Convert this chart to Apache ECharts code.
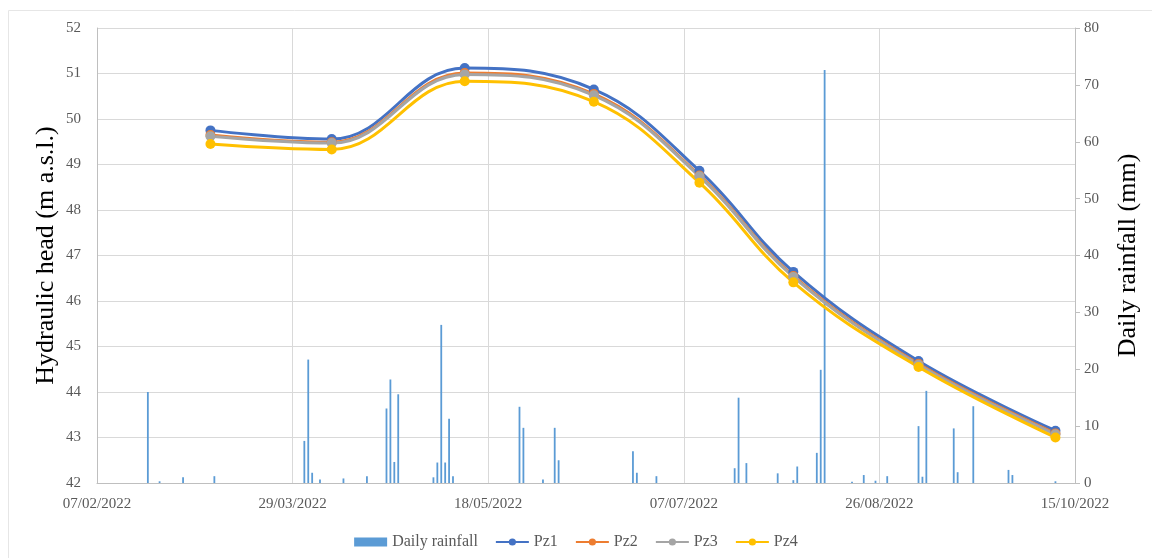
<!DOCTYPE html>
<html>
<head>
<meta charset="utf-8">
<title>Hydraulic head and daily rainfall</title>
<script src="https://cdn.jsdelivr.net/npm/echarts@6/dist/echarts.min.js"></script>
<style>
  html, body { margin: 0; padding: 0; background: #ffffff; }
  #chart { width: 1152px; height: 558px; }
</style>
</head>
<body>
<div id="chart"></div>
<script>
// Time span of the horizontal axis and its tick step (days)
const xStart = '2022-02-07';
const xEnd = '2022-10-15';
const tickStepDays = 50;

// Piezometer survey dates and hydraulic heads (m a.s.l.)
const headDates = ['2022-03-08', '2022-04-08', '2022-05-12', '2022-06-14', '2022-07-11', '2022-08-04', '2022-09-05', '2022-10-10'];
const pz1 = [49.75, 49.56, 51.12, 50.65, 48.86, 46.64, 44.68, 43.15];
const pz2 = [49.65, 49.49, 51.01, 50.55, 48.76, 46.55, 44.62, 43.09];
const pz3 = [49.62, 49.47, 50.98, 50.52, 48.74, 46.53, 44.60, 43.07];
const pz4 = [49.45, 49.33, 50.83, 50.38, 48.60, 46.41, 44.55, 43.00];

// Daily rainfall (mm)
const rainDates = [
  '2022-02-20', '2022-02-23', '2022-03-01', '2022-03-09',
  '2022-04-01', '2022-04-02', '2022-04-03', '2022-04-05', '2022-04-11', '2022-04-17',
  '2022-04-22', '2022-04-23', '2022-04-24', '2022-04-25',
  '2022-05-04', '2022-05-05', '2022-05-06', '2022-05-07', '2022-05-08', '2022-05-09',
  '2022-05-26', '2022-05-27', '2022-06-01', '2022-06-04', '2022-06-05',
  '2022-06-24', '2022-06-25', '2022-06-30',
  '2022-07-20', '2022-07-21', '2022-07-23', '2022-07-31',
  '2022-08-04', '2022-08-05', '2022-08-10', '2022-08-11', '2022-08-12',
  '2022-08-19', '2022-08-22', '2022-08-25', '2022-08-28',
  '2022-09-05', '2022-09-06', '2022-09-07', '2022-09-14', '2022-09-15', '2022-09-19',
  '2022-09-28', '2022-09-29', '2022-10-10'
];
const rainMm = [
  16.0, 0.3, 1.0, 1.2,
  7.4, 21.7, 1.8, 0.6, 0.8, 1.2,
  13.1, 18.2, 3.7, 15.6,
  1.0, 3.6, 27.8, 3.6, 11.3, 1.2,
  13.4, 9.7, 0.6, 9.7, 4.0,
  5.6, 1.8, 1.2,
  2.6, 15.0, 3.5, 1.7,
  0.5, 2.9, 5.3, 19.9, 72.6,
  0.2, 1.4, 0.4, 1.2,
  10.0, 1.1, 16.2, 9.6, 1.9, 13.5,
  2.3, 1.4, 0.3
];

const DAY_MS = 86400000;
const startMs = (function () { const p = xStart.split('-').map(Number); return Date.UTC(p[0], p[1] - 1, p[2]); })();
function dayOf(s) {
  const p = s.split('-').map(Number);
  return Math.round((Date.UTC(p[0], p[1] - 1, p[2]) - startMs) / DAY_MS);
}
function pad(n) { return (n < 10 ? '0' : '') + n; }
function fmtDay(v) {
  const d = new Date(startMs + v * DAY_MS);
  return pad(d.getUTCDate()) + '/' + pad(d.getUTCMonth() + 1) + '/' + d.getUTCFullYear();
}

const serif = '"Liberation Serif", "DejaVu Serif", serif';
const labelStyle = { fontFamily: serif, fontSize: 15, color: '#595959' };

function headSeries(name, values, color) {
  return {
    name: name,
    type: 'line',
    yAxisIndex: 0,
    smooth: 0.4,
    symbol: 'circle',
    symbolSize: 10,
    lineStyle: { width: 3, color: color },
    itemStyle: { color: color },
    data: headDates.map((d, i) => [dayOf(d), values[i]])
  };
}

const chart = echarts.init(document.getElementById('chart'), null, { renderer: 'canvas' });
chart.setOption({
  animation: false,
  backgroundColor: '#ffffff',
  graphic: [{
    type: 'rect',
    shape: { x: 8.5, y: 10.5, width: 1160, height: 560 },
    style: { fill: 'none', stroke: '#e6e6e6', lineWidth: 1 },
    silent: true
  }],
  grid: { left: 97, right: 77, top: 28, bottom: 75 },
  legend: {
    top: 529,
    left: 'center',
    itemWidth: 33,
    itemHeight: 9,
    itemGap: 17,
    textStyle: { fontFamily: serif, fontSize: 16, color: '#595959' },
    data: [
      { name: 'Daily rainfall', icon: 'rect' },
      'Pz1', 'Pz2', 'Pz3', 'Pz4'
    ]
  },
  xAxis: {
    type: 'value',
    min: 0,
    max: dayOf(xEnd),
    interval: tickStepDays,
    axisLine: { show: true, lineStyle: { color: '#bfbfbf', width: 1 } },
    axisTick: { show: false },
    splitLine: { show: true, lineStyle: { color: '#d9d9d9', width: 1 } },
    axisLabel: Object.assign({ margin: 14, formatter: fmtDay, showMinLabel: true, showMaxLabel: true }, labelStyle)
  },
  yAxis: [
    {
      type: 'value',
      position: 'left',
      min: 42,
      max: 52,
      interval: 1,
      name: 'Hydraulic head (m a.s.l.)',
      nameLocation: 'middle',
      nameRotate: 90,
      nameGap: 38,
      nameMoveOverlap: false,
      nameTextStyle: { fontFamily: serif, fontSize: 26, color: '#000000' },
      axisLine: { show: true, lineStyle: { color: '#bfbfbf', width: 1 } },
      axisTick: { show: false },
      splitLine: { show: true, lineStyle: { color: '#d9d9d9', width: 1 } },
      axisLabel: Object.assign({ margin: 16 }, labelStyle)
    },
    {
      type: 'value',
      position: 'right',
      min: 0,
      max: 80,
      interval: 10,
      name: 'Daily rainfall (mm)',
      nameLocation: 'middle',
      nameRotate: 90,
      nameGap: 40,
      nameTextStyle: { fontFamily: serif, fontSize: 26, color: '#000000' },
      axisLine: { show: true, lineStyle: { color: '#bfbfbf', width: 1 } },
      axisTick: { show: true, inside: false, length: 5, lineStyle: { color: '#bfbfbf' } },
      splitLine: { show: false },
      axisLabel: Object.assign({ margin: 9 }, labelStyle)
    }
  ],
  series: [
    {
      name: 'Daily rainfall',
      type: 'bar',
      yAxisIndex: 1,
      barWidth: 1.8,
      itemStyle: { color: '#5b9bd5' },
      data: rainDates.map((d, i) => [dayOf(d), rainMm[i]])
    },
    headSeries('Pz1', pz1, '#4472c4'),
    headSeries('Pz2', pz2, '#ed7d31'),
    headSeries('Pz3', pz3, '#a5a5a5'),
    headSeries('Pz4', pz4, '#ffc000')
  ]
});
</script>
</body>
</html>
